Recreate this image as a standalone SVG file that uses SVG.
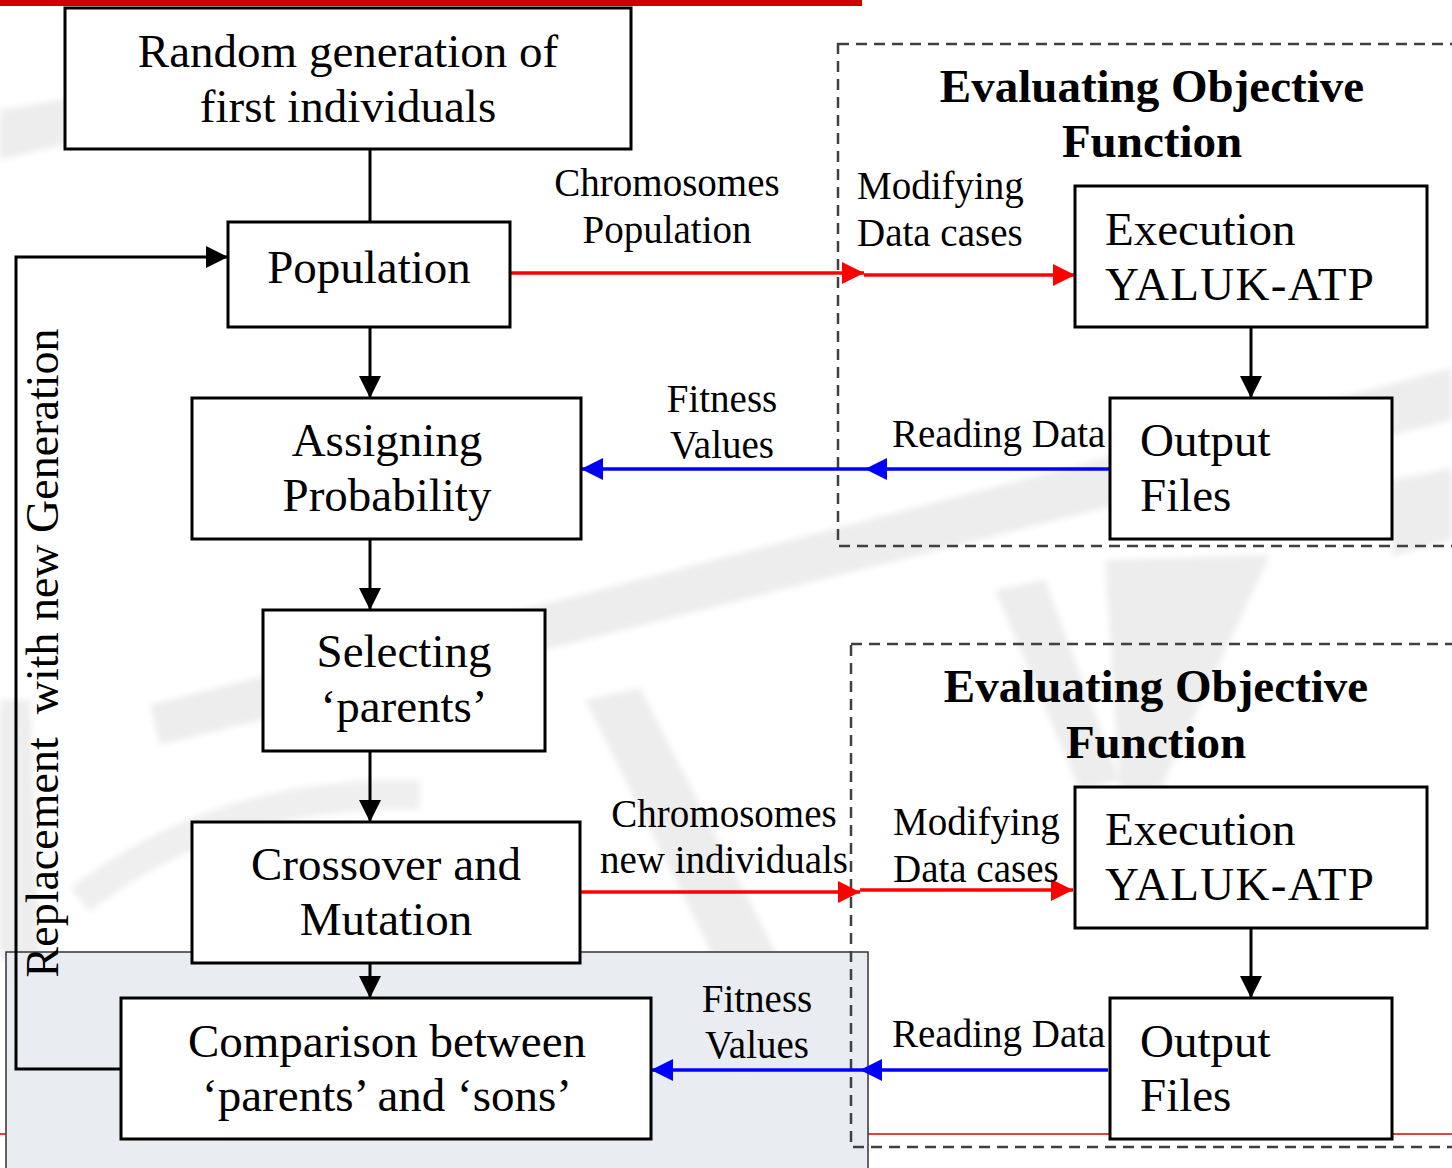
<svg xmlns="http://www.w3.org/2000/svg" width="1452" height="1168" viewBox="0 0 1452 1168">
<style>
.box{fill:#fff;stroke:#000;stroke-width:3}
.t{font-family:"Liberation Serif","Times New Roman",serif;font-size:47px;fill:#000}
.lbl{font-size:39px}
.title{font-weight:bold}
.mid{text-anchor:middle}
.ls{letter-spacing:1.3px}
.dash{fill:none;stroke:#404040;stroke-width:2.5;stroke-dasharray:11 7}
.blk{stroke:#000;stroke-width:3;fill:none}
.red{stroke:#ff0000;stroke-width:3.5;fill:none}
.blu{stroke:#0000ff;stroke-width:3.5;fill:none}
.wm{fill:#ededed}
</style>
<defs>
<marker id="ab" markerUnits="userSpaceOnUse" markerWidth="22" markerHeight="22" refX="22" refY="11" orient="auto"><path d="M0,0 L22,11 L0,22 z" fill="#000"/></marker>
<marker id="ar" markerUnits="userSpaceOnUse" markerWidth="22" markerHeight="22" refX="22" refY="11" orient="auto"><path d="M0,0 L22,11 L0,22 z" fill="#ff0000"/></marker>
<marker id="au" markerUnits="userSpaceOnUse" markerWidth="22" markerHeight="22" refX="22" refY="11" orient="auto"><path d="M0,0 L22,11 L0,22 z" fill="#0000ff"/></marker>
<filter id="soft" x="-10%" y="-10%" width="120%" height="120%"><feGaussianBlur stdDeviation="3"/></filter>
</defs>
<rect width="1452" height="1168" fill="#fff"/>
<g id="watermark" filter="url(#soft)">
<polygon class="wm" points="0,110 120,90 130,128 0,160"/>
<polygon class="wm" points="150,705 560,600 1452,368 1452,420 560,646 160,745"/>
<polygon class="wm" points="0,700 30,700 40,960 0,960"/>
<path d="M80,900 Q220,790 420,795" stroke="#efefef" stroke-width="30" fill="none"/>
<polygon class="wm" points="585,700 640,688 800,1000 740,1010"/>
<polygon class="wm" points="995,590 1045,580 1120,780 1080,790"/>
<polygon class="wm" points="1105,560 1270,555 1160,790 1120,790"/>
<polygon class="wm" points="1392,480 1452,468 1452,540 1392,556"/>
</g>
<rect x="0" y="0" width="862" height="6" fill="#cc0000"/>
<line x1="0" y1="1134" x2="1452" y2="1134" stroke="#e00000" stroke-width="1.5"/>
<rect x="6" y="952" width="862" height="230" fill="#e9edf1" stroke="#333" stroke-width="1.5"/>
<g id="groups">
<rect class="dash" x="838" y="44" width="700" height="502"/>
<rect class="dash" x="851" y="644" width="700" height="503"/>
<text class="t title mid" x="1152" y="102">Evaluating Objective</text>
<text class="t title mid" x="1152" y="157">Function</text>
<text class="t title mid" x="1156" y="702">Evaluating Objective</text>
<text class="t title mid" x="1156" y="758">Function</text>
</g>
<g id="connectors">
<line class="blk" x1="370" y1="149" x2="370" y2="222"/>
<line class="blk" x1="370" y1="327" x2="370" y2="398" marker-end="url(#ab)"/>
<line class="blk" x1="370" y1="539" x2="370" y2="610" marker-end="url(#ab)"/>
<line class="blk" x1="370" y1="751" x2="370" y2="822" marker-end="url(#ab)"/>
<line class="blk" x1="370" y1="963" x2="370" y2="998" marker-end="url(#ab)"/>
<line class="blk" x1="1251" y1="327" x2="1251" y2="398" marker-end="url(#ab)"/>
<line class="blk" x1="1251" y1="928" x2="1251" y2="998" marker-end="url(#ab)"/>
<polyline class="blk" points="121,1069 16,1069 16,257 228,257" marker-end="url(#ab)"/>
<line class="red" x1="511" y1="273" x2="864" y2="273" marker-end="url(#ar)"/>
<line class="red" x1="864" y1="275" x2="1075" y2="275" marker-end="url(#ar)"/>
<line class="blu" x1="1110" y1="469" x2="865" y2="469" marker-end="url(#au)"/>
<line class="blu" x1="865" y1="469" x2="581" y2="469" marker-end="url(#au)"/>
<line class="red" x1="580" y1="892" x2="860" y2="892" marker-end="url(#ar)"/>
<line class="red" x1="860" y1="890" x2="1073" y2="890" marker-end="url(#ar)"/>
<line class="blu" x1="1108" y1="1070" x2="860" y2="1070" marker-end="url(#au)"/>
<line class="blu" x1="860" y1="1070" x2="651" y2="1070" marker-end="url(#au)"/>
</g>
<g id="labels">
<text class="t lbl mid" x="667" y="196">Chromosomes</text>
<text class="t lbl mid" x="667" y="243">Population</text>
<text class="t lbl" x="857" y="199">Modifying</text>
<text class="t lbl" x="857" y="246">Data cases</text>
<text class="t lbl mid" x="722" y="412">Fitness</text>
<text class="t lbl mid" x="722" y="458">Values</text>
<text class="t lbl" x="892" y="447">Reading Data</text>
<text class="t lbl mid" x="724" y="827">Chromosomes</text>
<text class="t lbl mid" x="724" y="873">new individuals</text>
<text class="t lbl" x="893" y="835">Modifying</text>
<text class="t lbl" x="893" y="882">Data cases</text>
<text class="t lbl mid" x="757" y="1012">Fitness</text>
<text class="t lbl mid" x="757" y="1058">Values</text>
<text class="t lbl" x="892" y="1047">Reading Data</text>
<text class="t mid" x="0" y="0" font-size="46" transform="translate(58,653) rotate(-90)" style="white-space:pre;font-size:46px">Replacement  with new Generation</text>
</g>
<g id="n-random"><rect class="box" x="65" y="8" width="566" height="141"/>
<text class="t mid" x="348" y="67">Random generation of</text>
<text class="t mid" x="348" y="122">first individuals</text></g>
<g id="n-population"><rect class="box" x="228" y="222" width="282" height="105"/>
<text class="t mid" x="369" y="283">Population</text></g>
<g id="n-assigning"><rect class="box" x="192" y="398" width="389" height="141"/>
<text class="t mid" x="387" y="456">Assigning</text>
<text class="t mid" x="387" y="511">Probability</text></g>
<g id="n-selecting"><rect class="box" x="263" y="610" width="282" height="141"/>
<text class="t mid" x="404" y="667">Selecting</text>
<text class="t mid" x="404" y="722">‘parents’</text></g>
<g id="n-crossover"><rect class="box" x="192" y="822" width="388" height="141"/>
<text class="t mid" x="386" y="880">Crossover and</text>
<text class="t mid" x="386" y="935">Mutation</text></g>
<g id="n-comparison"><rect class="box" x="121" y="998" width="530" height="141"/>
<text class="t mid" x="387" y="1057">Comparison between</text>
<text class="t mid" x="387" y="1111">‘parents’ and ‘sons’</text></g>
<g id="n-exec1"><rect class="box" x="1075" y="186" width="352" height="141"/>
<text class="t" x="1105" y="245">Execution</text>
<text class="t ls" x="1105" y="300">YALUK-ATP</text></g>
<g id="n-output1"><rect class="box" x="1110" y="398" width="282" height="141"/>
<text class="t" x="1140" y="456">Output</text>
<text class="t" x="1140" y="511">Files</text></g>
<g id="n-exec2"><rect class="box" x="1075" y="787" width="352" height="141"/>
<text class="t" x="1105" y="845">Execution</text>
<text class="t ls" x="1105" y="900">YALUK-ATP</text></g>
<g id="n-output2"><rect class="box" x="1110" y="998" width="282" height="141"/>
<text class="t" x="1140" y="1057">Output</text>
<text class="t" x="1140" y="1111">Files</text></g>
</svg>
